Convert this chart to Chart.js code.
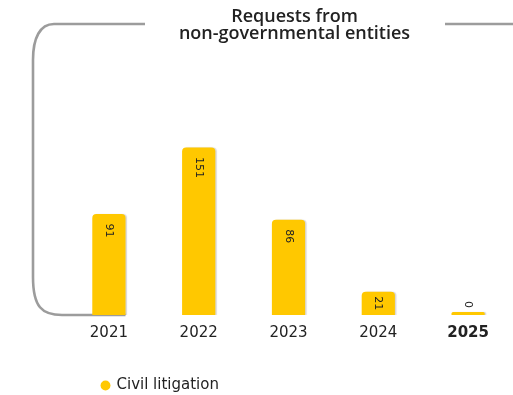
<!DOCTYPE html>
<html lang="en">
<head>
  <meta charset="UTF-8">
  <title>Requests from non-governmental entities</title>
  <script src="https://cdn.jsdelivr.net/npm/chart.js"></script>
  <style>
    body {
      margin: 0;
      background-color: #ffffff;
    }

    .chart-container {
      width: 513px;
      height: 395px;
    }
  </style>
</head>
<body>
  <div class="chart-container">
    <canvas id="requestsChart"></canvas>
  </div>

  <script>
    // Data
    const years = ["2021", "2022", "2023", "2024", "2025"];
    const civilLitigation = [91, 151, 86, 21, 0];
    const titleLines = ["Requests from", "non-governmental entities"];

    const FONT = "'DejaVu Sans', sans-serif";
    const TEXT_COLOR = "#222222";
    const BAR_COLOR = "#ffc800";
    const FRAME_COLOR = "#9c9c9c";

    // Moves the legend and title sideways once the layout is done
    const nudgeBoxes = {
      id: "nudgeBoxes",
      afterLayout(chart) {
        const shift = (box, dx) => {
          if (!box) return;
          box.left += dx;
          box.right += dx;
        };
        shift(chart.legend, 11);
        shift(chart.titleBlock, 6);
      },
    };

    // Grey bracket round the title and the left side of the plot
    const frame = {
      id: "frame",
      beforeDatasetsDraw(chart) {
        const { ctx, chartArea } = chart;
        const firstBar = chart.getDatasetMeta(0).data[0];
        const endX = firstBar.x + firstBar.width / 2;
        const bottom = chartArea.bottom;
        const topY = 24;
        const leftX = 33;

        ctx.save();
        ctx.strokeStyle = FRAME_COLOR;
        ctx.lineWidth = 2.6;

        ctx.beginPath();
        ctx.moveTo(145, topY);
        ctx.lineTo(54, topY);
        ctx.bezierCurveTo(40, topY, leftX, 38, leftX, 60);
        ctx.lineTo(leftX, bottom - 38);
        ctx.bezierCurveTo(leftX, bottom - 8, 42, bottom, 62, bottom);
        ctx.lineTo(endX, bottom);
        ctx.stroke();

        ctx.beginPath();
        ctx.moveTo(445, topY);
        ctx.lineTo(chart.width, topY);
        ctx.stroke();
        ctx.restore();

        // soft edge on the bars
        ctx.save();
        ctx.shadowColor = "rgba(0, 0, 0, 0.16)";
        ctx.shadowOffsetX = 1.5;
        ctx.shadowOffsetY = 0;
        ctx.shadowBlur = 1;
      },
      afterDatasetsDraw(chart) {
        const { ctx } = chart;
        ctx.restore();

        // value labels, turned to read downwards
        const meta = chart.getDatasetMeta(0);
        ctx.save();
        ctx.font = `11px ${FONT}`;
        ctx.fillStyle = TEXT_COLOR;
        ctx.textAlign = "left";
        ctx.textBaseline = "middle";
        meta.data.forEach((bar, i) => {
          const value = civilLitigation[i];
          const text = String(value);
          const textW = ctx.measureText(text).width;
          const top = Math.min(bar.y, bar.base);
          const barH = Math.abs(bar.base - bar.y);
          let start;
          if (value > 0 && barH > textW + 4) {
            start = top + Math.min(9.5, (barH - textW) / 2);
          } else {
            start = top - 4 - textW;
          }
          ctx.save();
          ctx.translate(bar.x, start);
          ctx.rotate(Math.PI / 2);
          ctx.fillText(text, 0, 0);
          ctx.restore();
        });
        ctx.restore();
      },
    };

    const ctx = document.getElementById("requestsChart").getContext("2d");
    const chart = new Chart(ctx, {
      type: "bar",
      data: {
        labels: years,
        datasets: [
          {
            label: "Civil litigation",
            data: civilLitigation,
            backgroundColor: BAR_COLOR,
            borderWidth: 0,
            borderRadius: { topLeft: 4, topRight: 4, bottomLeft: 0, bottomRight: 0 },
            borderSkipped: false,
            minBarLength: 3,
            categoryPercentage: 1,
            barPercentage: 0.37,
          },
        ],
      },
      options: {
        responsive: true,
        maintainAspectRatio: false,
        animation: false,
        layout: {
          padding: { left: 64, right: 0, top: 0, bottom: -8 },
        },
        plugins: {
          title: {
            display: true,
            text: titleLines,
            color: TEXT_COLOR,
            font: { family: "'Open Sans', sans-serif", size: 18, weight: "600", lineHeight: "17.5px" },
            padding: { top: 7.75, bottom: 7.25 },
          },
          legend: {
            display: true,
            position: "bottom",
            align: "start",
            labels: {
              color: TEXT_COLOR,
              font: { family: FONT, size: 15 },
              usePointStyle: true,
              pointStyle: "circle",
              boxWidth: 7,
              boxHeight: 7,
              padding: 27,
            },
          },
          tooltip: { enabled: false },
        },
        scales: {
          x: {
            grid: { display: false, drawTicks: false },
            border: { display: false },
            ticks: {
              color: TEXT_COLOR,
              padding: 9,
              font: (c) => ({
                family: FONT,
                size: 15,
                weight: c.index === 4 ? "bold" : "normal",
              }),
            },
          },
          y: {
            display: false,
            min: 0,
            max: 239,
          },
        },
      },
      plugins: [nudgeBoxes, frame],
    });
  </script>
</body>
</html>
